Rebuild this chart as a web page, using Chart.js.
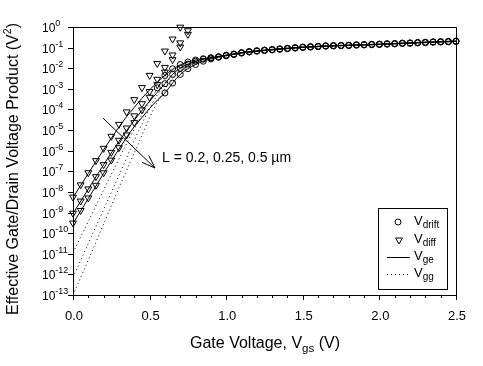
<!DOCTYPE html>
<html>
<head>
<meta charset="utf-8">
<script src="https://cdn.jsdelivr.net/npm/chart.js@4"></script>
<style>
html, body { margin: 0; padding: 0; background: #fff; }
</style>
</head>
<body>
<canvas id="chart" width="483" height="366"></canvas>
<script>
// Gate voltage grid for the V_diff markers
var diffV = [0, 0.05, 0.1, 0.15, 0.2, 0.25, 0.3, 0.35, 0.4, 0.45, 0.5, 0.55, 0.6, 0.65, 0.7, 0.75];
var diffA = [5.6e-9, 2.2e-8, 8.5e-8, 3.3e-7, 1.3e-6, 5.0e-6, 1.9e-5, 7.6e-5, 3.0e-4, 1.15e-3, 4.5e-3, 1.7e-2, 6.8e-2, 0.26, 0.98, null];
var diffB = [9.3e-10, 3.6e-9, 1.4e-8, 5.5e-8, 2.1e-7, 8.3e-7, 3.2e-6, 1.26e-5, 4.9e-5, 1.9e-4, 7.4e-4, 2.9e-3, 1.1e-2, 4.4e-2, 0.17, 0.66];
var diffC = [3.1e-10, 1.26e-9, 5.1e-9, 2.1e-8, 8.5e-8, 3.5e-7, 1.4e-6, 5.8e-6, 2.3e-5, 9.5e-5, 3.9e-4, 1.6e-3, 6.5e-3, 2.6e-2, 0.107, 0.44];

// Gate voltage grid for the V_drift markers
var driftV = [0.55, 0.6, 0.65, 0.7, 0.75, 0.8, 0.85, 0.9, 0.95, 1.0, 1.05, 1.1, 1.15, 1.2, 1.25, 1.3, 1.35, 1.4, 1.45, 1.5,
              1.55, 1.6, 1.65, 1.7, 1.75, 1.8, 1.85, 1.9, 1.95, 2.0, 2.05, 2.1, 2.15, 2.2, 2.25, 2.3, 2.35, 2.4, 2.45, 2.5];
var driftA = [1.12e-3, 4.47e-3, 9.5e-3, 1.51e-2, 2.0e-2, 0.0251, 0.0288, 0.0324, 0.0363, 0.043, 0.049, 0.0575, 0.0646, 0.0708, 0.0759, 0.0813, 0.0871, 0.0933, 0.1, 0.107,
              0.112, 0.117, 0.123, 0.126, 0.129, 0.132, 0.138, 0.141, 0.145, 0.148, 0.155, 0.158, 0.166, 0.170, 0.178, 0.182, 0.191, 0.195, 0.200, 0.209];
var driftB = [null, 1.78e-3, 5.0e-3, 1.0e-2, 1.58e-2, 2.19e-2, 2.75e-2, 0.0316, 0.0355, 0.042, 0.048, 0.056, 0.063, 0.069, 0.074, 0.079, 0.085, 0.091, 0.097, 0.104,
              0.109, 0.114, 0.120, 0.123, 0.126, 0.129, 0.135, 0.138, 0.142, 0.145, 0.151, 0.155, 0.162, 0.166, 0.174, 0.178, 0.187, 0.191, 0.196, 0.204];
var driftC = [null, 6.3e-4, 1.9e-3, 5.0e-3, 9.5e-3, 1.51e-2, 2.19e-2, 2.82e-2, 0.0339, 0.040, 0.046, 0.054, 0.061, 0.067, 0.072, 0.077, 0.083, 0.089, 0.095, 0.101,
              0.106, 0.111, 0.117, 0.120, 0.123, 0.126, 0.131, 0.134, 0.138, 0.141, 0.147, 0.151, 0.158, 0.162, 0.169, 0.174, 0.182, 0.186, 0.191, 0.199];

// Gate voltage grid for the V_ge / V_gg curves
var lineV = [0, 0.1, 0.2, 0.3, 0.35, 0.4, 0.45, 0.5, 0.55, 0.6, 0.65, 0.7, 0.75, 0.8, 0.85, 0.9, 1.0, 1.1, 1.25, 1.5, 1.75, 2.0, 2.25, 2.5];
var geA = [5.4e-9, 7.9e-8, 1.12e-6, 1.41e-5, 4.5e-5, 1.26e-4, 3.5e-4, 8.9e-4, 2.1e-3, 4.5e-3, 8.9e-3, 1.45e-2, 2.0e-2, 2.51e-2, 2.88e-2, 0.0324, 0.043, 0.0575, 0.0759, 0.107, 0.129, 0.148, 0.178, 0.209];
var geB = [9.1e-10, 1.38e-8, 2.1e-7, 2.8e-6, 9.5e-6, 3.0e-5, 8.9e-5, 2.5e-4, 6.8e-4, 1.78e-3, 5.0e-3, 1.0e-2, 1.58e-2, 2.19e-2, 2.75e-2, 0.0316, 0.042, 0.056, 0.074, 0.104, 0.126, 0.145, 0.174, 0.204];
var geC = [2.95e-10, 4.8e-9, 7.9e-8, 1.2e-6, 4.4e-6, 1.48e-5, 4.0e-5, 1.12e-4, 2.8e-4, 6.3e-4, 1.9e-3, 5.0e-3, 9.5e-3, 1.51e-2, 2.19e-2, 2.82e-2, 0.040, 0.054, 0.072, 0.101, 0.123, 0.141, 0.169, 0.199];
var ggA = [1.12e-11, 3.7e-10, 1.26e-8, 3.98e-7, 2.24e-6, 1.12e-5, 5.6e-5, 2.5e-4, 1.0e-3, 3.16e-3, 7.6e-3, 1.32e-2, 1.9e-2, 2.4e-2, 2.82e-2, 0.0324, 0.043, 0.0575, 0.0759, 0.107, 0.129, 0.148, 0.178, 0.209];
var ggB = [7.1e-13, 3.16e-11, 1.41e-9, 6.3e-8, 4.5e-7, 3.16e-6, 2.0e-5, 1.12e-4, 5.0e-4, 1.66e-3, 4.2e-3, 8.3e-3, 1.35e-2, 1.9e-2, 2.51e-2, 3.1e-2, 0.042, 0.056, 0.074, 0.104, 0.126, 0.145, 0.174, 0.204];
var ggC = [1.0e-13, 5.0e-12, 2.8e-10, 1.58e-8, 1.12e-7, 7.9e-7, 5.6e-6, 4.0e-5, 2.24e-4, 1.0e-3, 3.0e-3, 6.8e-3, 1.17e-2, 1.74e-2, 2.29e-2, 2.88e-2, 0.040, 0.054, 0.072, 0.101, 0.123, 0.141, 0.169, 0.199];

// Axis ticks
var xTicks = [0, 0.5, 1.0, 1.5, 2.0, 2.5];
var xTickLabels = ['0.0', '0.5', '1.0', '1.5', '2.0', '2.5'];
var yExponents = [0, -1, -2, -3, -4, -5, -6, -7, -8, -9, -10, -11, -12, -13];

var FONT = "'Liberation Sans', Arial, sans-serif";

function pts(xs, ys) {
    var out = [];
    for (var i = 0; i < xs.length; i++) {
        if (ys[i] !== null) out.push({ x: xs[i], y: ys[i] });
    }
    return out;
}

function markers(xs, ys, style) {
    return {
        data: pts(xs, ys),
        showLine: false,
        pointStyle: style,
        pointRotation: style === 'triangle' ? 180 : 0,
        pointRadius: style === 'triangle' ? 4 : 3,
        pointBorderColor: '#000',
        pointBackgroundColor: 'rgba(0,0,0,0)',
        pointBorderWidth: 1,
        clip: 6
    };
}

function curve(xs, ys, dotted) {
    return {
        data: pts(xs, ys),
        borderColor: '#000',
        borderWidth: 1,
        borderDash: dotted ? [1, 3] : [],
        pointRadius: 0,
        cubicInterpolationMode: 'monotone',
        fill: false
    };
}

// draw a run of text pieces (for sub/superscripts)
function drawRich(ctx, parts, x, y, align) {
    var w = 0;
    parts.forEach(function (p) {
        ctx.font = p.size + 'px ' + FONT;
        w += ctx.measureText(p.text).width;
    });
    var cx = align === 'center' ? x - w / 2 : (align === 'right' ? x - w : x);
    parts.forEach(function (p) {
        ctx.font = p.size + 'px ' + FONT;
        ctx.fillText(p.text, cx, y + (p.dy || 0));
        cx += ctx.measureText(p.text).width;
    });
}

var framePlugin = {
    id: 'frame',
    afterDraw: function (chart) {
        var ctx = chart.ctx;
        var a = chart.chartArea;
        var xs = chart.scales.x, ys = chart.scales.y;
        ctx.save();
        ctx.strokeStyle = '#000';
        ctx.fillStyle = '#000';
        ctx.lineWidth = 1;
        ctx.textBaseline = 'alphabetic';

        // frame
        ctx.strokeRect(Math.round(a.left) + 0.5, Math.round(a.top) + 0.5,
            Math.round(a.right - a.left), Math.round(a.bottom - a.top));

        // x ticks, major every 0.5, minor every 0.1
        ctx.beginPath();
        for (var i = 0; i <= 25; i++) {
            var px = Math.round(xs.getPixelForValue(i / 10)) + 0.5;
            var len = i % 5 === 0 ? 5 : 3;
            ctx.moveTo(px, a.bottom);
            ctx.lineTo(px, a.bottom + len);
        }
        // y ticks
        yExponents.forEach(function (e) {
            var py = Math.round(ys.getPixelForValue(Math.pow(10, e))) + 0.5;
            ctx.moveTo(a.left - 5, py);
            ctx.lineTo(a.left, py);
        });
        ctx.stroke();

        // x tick labels
        ctx.textAlign = 'center';
        ctx.font = '13px ' + FONT;
        xTicks.forEach(function (v, k) {
            ctx.fillText(xTickLabels[k], xs.getPixelForValue(v) + 1, 320);
        });
        ctx.textAlign = 'left';

        // y tick labels: 10 with exponent
        yExponents.forEach(function (e) {
            var py = ys.getPixelForValue(Math.pow(10, e));
            drawRich(ctx, [
                { text: '10', size: 12 },
                { text: String(e).replace('-', '\u2010'), size: 9, dy: -6 }
            ], 42, py + 5, 'left');
        });

        // axis titles
        drawRich(ctx, [
            { text: 'Gate Voltage, V', size: 16 },
            { text: 'gs', size: 11.5, dy: 4 },
            { text: ' (V)', size: 16 }
        ], 265, 348, 'center');

        ctx.save();
        ctx.translate(18, 169);
        ctx.rotate(-Math.PI / 2);
        drawRich(ctx, [
            { text: 'Effective Gate/Drain Voltage Product (V', size: 16 },
            { text: '2', size: 10.5, dy: -7 },
            { text: ')', size: 16 }
        ], 0, 0, 'center');
        ctx.restore();

        // legend box
        ctx.strokeRect(378.5, 208.5, 69, 81);
        var rows = [223, 241, 258, 275];
        ctx.fillStyle = '#fff';
        Chart.helpers.drawPoint(ctx, { pointStyle: 'circle', radius: 3, borderWidth: 1 }, 398, rows[0] - 1);
        Chart.helpers.drawPoint(ctx, { pointStyle: 'triangle', rotation: 180, radius: 4, borderWidth: 1 }, 399, rows[1] - 1);
        ctx.beginPath();
        ctx.moveTo(387, rows[2] - 0.5);
        ctx.lineTo(410, rows[2] - 0.5);
        ctx.stroke();
        ctx.setLineDash([1, 3]);
        ctx.beginPath();
        ctx.moveTo(387, rows[3] - 0.5);
        ctx.lineTo(410, rows[3] - 0.5);
        ctx.stroke();
        ctx.setLineDash([]);
        ctx.fillStyle = '#000';
        var subs = ['drift', 'diff', 'ge', 'gg'];
        subs.forEach(function (s, k) {
            drawRich(ctx, [
                { text: 'V', size: 13 },
                { text: s, size: 10, dy: 3 }
            ], 414, rows[k] + 2, 'left');
        });

        // annotation arrow across the three device lengths
        var x0 = xs.getPixelForValue(0.196), y0 = ys.getPixelForValue(3.8e-5);
        var x1 = xs.getPixelForValue(0.535), y1 = ys.getPixelForValue(1.44e-7);
        var ang = Math.atan2(y1 - y0, x1 - x0);
        ctx.beginPath();
        ctx.moveTo(x0, y0);
        ctx.lineTo(x1, y1);
        ctx.moveTo(x1 - 14 * Math.cos(ang - 0.35), y1 - 14 * Math.sin(ang - 0.35));
        ctx.lineTo(x1, y1);
        ctx.lineTo(x1 - 14 * Math.cos(ang + 0.35), y1 - 14 * Math.sin(ang + 0.35));
        ctx.stroke();
        ctx.font = '14px ' + FONT;
        ctx.fillText('L = 0.2, 0.25, 0.5 \u00b5m', 162, 162);

        ctx.restore();
    }
};

new Chart(document.getElementById('chart').getContext('2d'), {
    type: 'line',
    data: {
        datasets: [
            curve(lineV, geA, false),
            curve(lineV, geB, false),
            curve(lineV, geC, false),
            curve(lineV, ggA, true),
            curve(lineV, ggB, true),
            curve(lineV, ggC, true),
            markers(driftV, driftA, 'circle'),
            markers(driftV, driftB, 'circle'),
            markers(driftV, driftC, 'circle'),
            markers(diffV, diffA, 'triangle'),
            markers(diffV, diffB, 'triangle'),
            markers(diffV, diffC, 'triangle')
        ]
    },
    options: {
        responsive: false,
        animation: false,
        events: [],
        layout: { padding: { left: 73, top: 27, right: 27, bottom: 71 } },
        scales: {
            x: { type: 'linear', min: 0, max: 2.5, display: false },
            y: { type: 'logarithmic', min: 1e-13, max: 1, display: false }
        },
        plugins: {
            legend: { display: false },
            tooltip: { enabled: false }
        }
    },
    plugins: [framePlugin]
});
</script>
</body>
</html>
